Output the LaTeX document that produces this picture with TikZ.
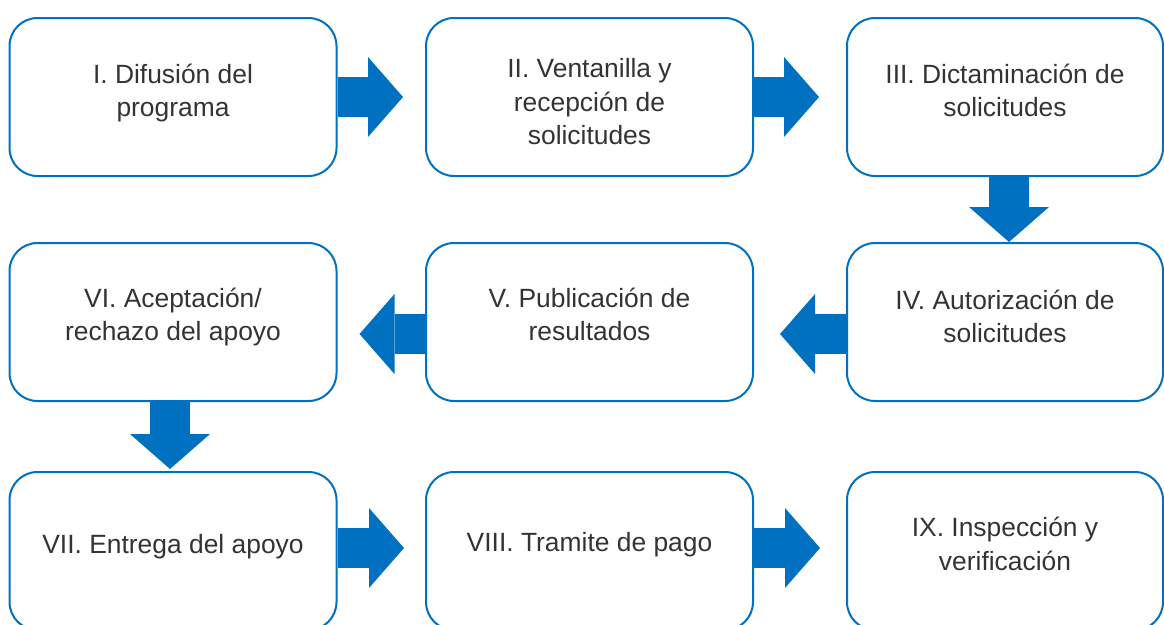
\documentclass[tikz,border=0pt]{standalone}
\usepackage{fontspec}
\setmainfont{Liberation Sans}
\usetikzlibrary{arrows.meta}
\definecolor{flowblue}{RGB}{0,112,192}
\definecolor{txtgray}{RGB}{51,51,51}

\begin{document}
\begin{tikzpicture}[x=1pt,y=-1pt,
  stage/.style={draw=flowblue,line width=2pt,rounded corners=28pt,minimum width=327pt,minimum height=158pt,inner sep=0pt},
  stagetxt/.style={text=txtgray,align=center,inner sep=0.75pt,font=\fontsize{26.4}{33.5}\selectfont},
  fatarrow/.style={color=flowblue,line width=40pt,-{Triangle[width=80pt,length=35pt,line width=0pt]}}]
\useasboundingbox (0,0) rectangle (1164,624);

%Shape: Rounded Rect, first row
\node[stage] (b1) at (173,97) {};
\node[stage] (b2) at (589.5,97) {};
\node[stage,minimum width=316pt] (b3) at (1005,97) {};
%Shape: Rounded Rect, second row
\node[stage,minimum width=316pt] (b4) at (1005,322) {};
\node[stage] (b5) at (589.5,322) {};
\node[stage] (b6) at (173,322) {};
%Shape: Rounded Rect, third row
\node[stage] (b7) at (173,551) {};
\node[stage] (b8) at (589.5,551) {};
\node[stage,minimum width=316pt] (b9) at (1005,551) {};

% Text Node
\node[stagetxt] (t1) at ([yshift=4pt]b1.center) {I. Difusión del\\programa};
% Text Node
\node[stagetxt] (t2) at ([yshift=-5pt]b2.center) {II. Ventanilla y\\recepción de\\solicitudes};
% Text Node
\node[stagetxt] (t3) at ([yshift=6.5pt]b3.center) {III. Dictaminación de\\solicitudes};
% Text Node
\node[stagetxt] (t4) at ([yshift=5.5pt]b4.center) {IV. Autorización de\\solicitudes};
% Text Node
\node[stagetxt] (t5) at ([yshift=7.5pt]b5.center) {V. Publicación de\\resultados};
% Text Node
\node[stagetxt] (t6) at ([yshift=5pt]b6.center) {VI. Aceptación/\\rechazo del apoyo};
% Text Node
\node[stagetxt] (t7) at ([yshift=4pt]b7.center) {VII. Entrega del apoyo};
% Text Node
\node[stagetxt] (t8) at ([yshift=6pt]b8.center) {VIII. Tramite de pago};
% Text Node
\node[stagetxt] (t9) at ([yshift=7pt]b9.center) {IX. Inspección y\\verificación};

%Block Arrows
\draw[fatarrow] (b1.east) -- ([xshift=-22pt]b2.west);
\draw[fatarrow] (b2.east) -- ([xshift=-27pt]b3.west);
\draw[fatarrow] ([xshift=4pt]b3.south) -- ([xshift=4pt]b4.north);
\draw[fatarrow] ([yshift=-12pt]b4.west) -- ([xshift=26pt,yshift=-12pt]b5.east);
\draw[fatarrow] ([yshift=-12pt]b5.west) -- ([xshift=22pt,yshift=-12pt]b6.east);
\draw[fatarrow] ([xshift=-3pt]b6.south) -- ([xshift=-3pt,yshift=2pt]b7.north);
\draw[fatarrow] ([yshift=3pt]b7.east) -- ([xshift=-21pt,yshift=3pt]b8.west);
\draw[fatarrow] ([yshift=3pt]b8.east) -- ([xshift=-26pt,yshift=3pt]b9.west);

\end{tikzpicture}
\end{document}
